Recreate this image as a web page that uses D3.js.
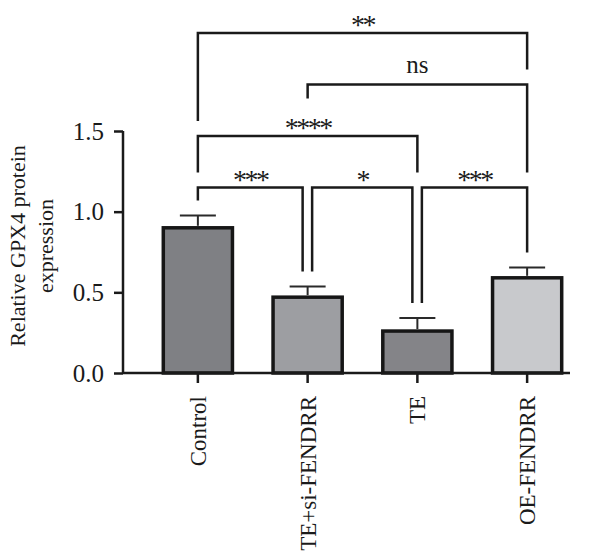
<!DOCTYPE html>
<head>
    <meta charset="utf-8">
    <style>
        body { margin: 0; background: #ffffff; }
        text { font-family: "Liberation Serif", "DejaVu Serif", serif; fill: #1a1a1a; }
    </style>
    <script src="https://d3js.org/d3.v7.min.js"></script>
</head>
<body>
<div id="chart"></div>
<script>

    // data
    var groups = ["Control", "TE+si-FENDRR", "TE", "OE-FENDRR"];
    var means = [0.90, 0.47, 0.26, 0.59];
    var errs = [0.076, 0.066, 0.081, 0.064];
    var fills = ["#7f8084", "#9d9ea2", "#848488", "#c8c9cc"];
    var yTicks = [0, 0.5, 1.0, 1.5];

    // significance brackets: from group, to group, label, stacking level
    var compFrom = [0, 1, 2, 0, 1, 0];
    var compTo = [1, 2, 3, 2, 3, 3];
    var compLabel = ["***", "*", "***", "****", "ns", "**"];
    var compLevel = [0, 0, 0, 1, 2, 3];

    var W = 600, H = 554;
    var margin = { left: 123, top: 131, bottom: 181 };

    var svg = d3.select("#chart").append("svg")
        .attr("width", W)
        .attr("height", H);

    var y = d3.scaleLinear()
        .domain([0, 1.5])
        .range([H - margin.bottom, margin.top]);

    var x = d3.scaleBand()
        .domain(groups)
        .range([143, 582])
        .paddingInner(0.37)
        .paddingOuter(0.185);

    var g = svg.append("g");

    // y axis
    var yx = g.append("g")
        .attr("transform", `translate(${margin.left},0)`)
        .call(d3.axisLeft(y).tickValues(yTicks).tickSize(9).tickPadding(10).tickFormat(d3.format(".1f")));
    yx.select(".domain").remove();
    yx.selectAll("line").attr("stroke", "#1a1a1a").attr("stroke-width", 2.5);
    yx.selectAll("text").attr("font-size", 25).style("font-family", "Liberation Serif");
    g.append("line")
        .attr("x1", margin.left).attr("x2", margin.left)
        .attr("y1", y(0)).attr("y2", y(1.5))
        .attr("stroke", "#1a1a1a").attr("stroke-width", 2.5);

    // bars
    g.selectAll(".bar")
        .data(groups)
        .enter()
        .append("rect")
        .attr("class", "bar")
        .attr("x", d => x(d))
        .attr("width", x.bandwidth())
        .attr("y", (d, i) => y(means[i]))
        .attr("height", (d, i) => y(0) - y(means[i]))
        .attr("fill", (d, i) => fills[i])
        .attr("stroke", "#161616")
        .attr("stroke-width", 3.5);

    // error bars
    var eb = g.selectAll(".err")
        .data(groups)
        .enter()
        .append("g")
        .attr("class", "err")
        .attr("stroke", "#2a2a2a")
        .attr("stroke-width", 2);
    eb.append("line")
        .attr("x1", d => x(d) + x.bandwidth() / 2)
        .attr("x2", d => x(d) + x.bandwidth() / 2)
        .attr("y1", (d, i) => y(means[i]) - 2)
        .attr("y2", (d, i) => y(means[i] + errs[i]));
    eb.append("line")
        .attr("x1", d => x(d) + x.bandwidth() / 2 - 18)
        .attr("x2", d => x(d) + x.bandwidth() / 2 + 18)
        .attr("y1", (d, i) => y(means[i] + errs[i]))
        .attr("y2", (d, i) => y(means[i] + errs[i]));

    // x axis
    var xx = g.append("g")
        .attr("transform", `translate(0,${y(0)})`)
        .call(d3.axisBottom(x).tickSize(10).tickPadding(12));
    xx.select(".domain").remove();
    xx.selectAll("line").attr("stroke", "#1a1a1a").attr("stroke-width", 2.5);
    xx.selectAll("text")
        .attr("font-size", 23)
        .style("font-family", "Liberation Serif")
        .attr("text-anchor", "end")
        .attr("transform", "rotate(-90)")
        .attr("x", -23)
        .attr("y", 0)
        .attr("dy", "0.35em");
    g.append("line")
        .attr("x1", margin.left).attr("x2", 570)
        .attr("y1", y(0)).attr("y2", y(0))
        .attr("stroke", "#1a1a1a").attr("stroke-width", 2.5);

    // y title
    var yt = g.append("text")
        .attr("transform", `translate(0,${(y(0) + y(1.5)) / 2 - 6}) rotate(-90)`)
        .attr("text-anchor", "middle")
        .attr("font-size", 22);
    yt.append("tspan").attr("x", 0).attr("y", 25).text("Relative GPX4 protein");
    yt.append("tspan").attr("x", 0).attr("y", 53).text("expression");

    // brackets
    var cx = i => x(groups[i]) + x.bandwidth() / 2;
    var levelY = l => y(d3.max(means.map((m, i) => m + errs[i]))) - 28 - l * 51.5;

    var brackets = compLabel.map((lab, k) => {
        var a = compFrom[k], b = compTo[k], l = compLevel[k];
        var xa = cx(a), xb = cx(b);
        // shift ends that meet another bracket on the same level
        compLabel.forEach((_, m) => {
            if (m == k || compLevel[m] != l) return;
            if (compTo[m] == a) xa += 4.5;
            if (compFrom[m] == b) xb -= 5;
        });
        function dropEnd(gi) {
            var below = [];
            var inside = false;
            compLabel.forEach((_, m) => {
                if (compLevel[m] >= l) return;
                if (gi > compFrom[m] && gi < compTo[m]) inside = true;
                if (gi == compFrom[m] || gi == compTo[m]) below.push(compLevel[m]);
            });
            if (inside) return levelY(l) + 14;
            if (below.length) return levelY(d3.max(below)) - 15;
            return y(means[gi] + errs[gi]) - 15;
        }
        return { lab: lab, ly: levelY(l), xa: xa, xb: xb, ya: dropEnd(a), yb: dropEnd(b) };
    });

    var br = g.selectAll(".br")
        .data(brackets)
        .enter()
        .append("g")
        .attr("class", "br");
    br.append("path")
        .attr("d", d => `M${d.xa},${d.ya}V${d.ly}H${d.xb}V${d.yb}`)
        .attr("fill", "none")
        .attr("stroke", "#1a1a1a")
        .attr("stroke-width", 2.5);
    br.append("text")
        .attr("x", d => (d.xa + d.xb) / 2)
        .attr("y", d => d.lab == "ns" ? d.ly - 12 : d.ly + 1)
        .attr("text-anchor", "middle")
        .attr("font-size", d => d.lab == "ns" ? 25 : 28)
        .attr("letter-spacing", d => d.lab == "ns" ? 0 : -2.5)
        .attr("fill", "#333")
        .text(d => d.lab);

</script>
</body>
